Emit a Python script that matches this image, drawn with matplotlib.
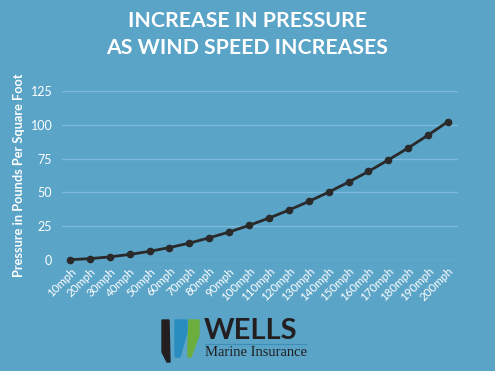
import matplotlib
matplotlib.use("Agg")
import matplotlib.pyplot as plt
from matplotlib.patches import Polygon

speeds = ["10mph", "20mph", "30mph", "40mph", "50mph", "60mph", "70mph", "80mph",
          "90mph", "100mph", "110mph", "120mph", "130mph", "140mph", "150mph",
          "160mph", "170mph", "180mph", "190mph", "200mph"]
pressure = [0.26, 1.0, 2.3, 4.1, 6.4, 9.2, 12.5, 16.4, 20.7, 25.6,
            31.0, 36.9, 43.3, 50.2, 57.6, 65.5, 74.0, 82.9, 92.4, 102.4]
y_ticks = [0, 25, 50, 75, 100, 125]

bg = "#5AA4C8"
grid_c = "#7DB9D8"

fig = plt.figure(figsize=(4.95, 3.71), dpi=100)
fig.set_facecolor(bg)

# title
fig.text(0.5, 0.943, "INCREASE IN PRESSURE", ha="center", va="center",
         color="white", fontsize=15.3, fontweight="bold", family="Lato")
fig.text(0.5, 0.87, "AS WIND SPEED INCREASES", ha="center", va="center",
         color="white", fontsize=15.3, fontweight="bold", family="Lato")

ax = fig.add_axes([62 / 495, 1 - 260 / 371, (458 - 62) / 495, (260 - 91) / 371])
ax.set_facecolor(bg)
x = list(range(len(speeds)))
ax.plot(x, pressure, color="#2A2A2A", lw=2, marker="o", ms=4.5, clip_on=False, zorder=3)

ax.set_xlim(-0.4, 19.5)
ax.set_ylim(0, 125)
ax.set_yticks(y_ticks)
ax.set_xticks(x)
ax.set_xticklabels(speeds, rotation=45, ha="right", va="top",
                   rotation_mode="anchor", color="white", fontsize=8.3, family="Lato")
for t in ax.get_yticklabels():
    t.set_color("white")
    t.set_fontsize(9)
    t.set_family("Lato")
ax.tick_params(length=0, pad=7)
ax.tick_params(axis="x", pad=4)
ax.grid(axis="y", color=grid_c, lw=1)
ax.set_axisbelow(True)
for s in ax.spines.values():
    s.set_visible(False)

ax.set_ylabel("Pressure in Pounds Per Square Foot", color="white", fontsize=9.2,
              fontweight="bold", family="Lato", labelpad=4)

# logo
lx = fig.add_axes([0, 0, 1, 1], zorder=-1)
lx.set_xlim(0, 495)
lx.set_ylim(371, 0)
lx.axis("off")
lx.add_patch(Polygon([[162, 320], [169, 320], [170, 362], [167, 362], [162, 352]],
                     closed=True, color="#231F20"))
lx.add_patch(Polygon([[175, 320], [187, 320], [187, 332], [180, 357], [175, 357]],
                     closed=True, color="#2A8DC0"))
lx.add_patch(Polygon([[189, 320], [199, 320], [199, 335], [191, 357], [188, 357], [188, 345]],
                     closed=True, color="#6BAE3E"))
lx.text(204, 331, "WELLS", color="#231F20", fontsize=21, fontweight="bold",
        family="Lato", va="center", ha="left")
lx.plot([205, 306], [344, 344], color="#3C8DB8", lw=0.8)
lx.text(205, 353, "Marine Insurance", color="#231F20", fontsize=10.5,
        family="Liberation Serif", va="center", ha="left")

fig.savefig("out.png", dpi=100, facecolor=bg)
